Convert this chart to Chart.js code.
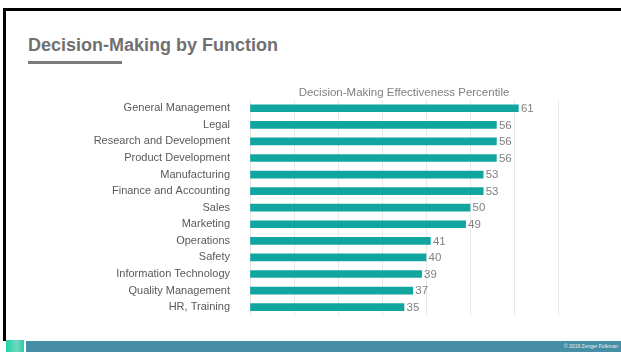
<!DOCTYPE html>
<html>
<head>
<meta charset="utf-8">
<script src="https://cdn.jsdelivr.net/npm/chart.js@4/dist/chart.umd.min.js"></script>
<style>
  html, body { margin: 0; padding: 0; background: #fff; }
  body { width: 621px; height: 352px; position: relative; overflow: hidden; font-family: "Liberation Sans", Arial, sans-serif; }
  .frame { position: absolute; left: 3px; top: 8px; width: 618px; height: 333px; border-top: 3px solid #000; border-left: 3px solid #000; box-sizing: border-box; }
  .title { position: absolute; left: 28px; top: 35px; font-size: 18px; font-weight: bold; color: #707070; white-space: nowrap; }
  .rule { position: absolute; left: 28px; top: 61px; width: 94px; height: 3px; background: #7a7a7a; }
  .band { position: absolute; left: 26px; top: 341px; width: 595px; height: 11px; background: #468ea5; }
  .square { position: absolute; left: 6px; top: 340px; width: 18px; height: 12px; background: linear-gradient(90deg, #1fd3a6, #6fd8c0 60%, #2fc9a6); }
  .copy { position: absolute; right: 3px; top: 343px; font-size: 5px; color: #e8f2f5; white-space: nowrap; }
  #chartWrap { position: absolute; left: 0; top: 80px; width: 621px; height: 254px; }
</style>
</head>
<body>
<div class="frame"></div>
<div class="title">Decision-Making by Function</div>
<div class="rule"></div>
<div id="chartWrap"><canvas id="functionChart"></canvas></div>
<div class="square"></div>
<div class="band"></div>
<div class="copy">© 2019 Zenger Folkman</div>

<script>
// 機能別の意思決定力
const functionLabels = [
  "General Management",
  "Legal",
  "Research and Development",
  "Product Development",
  "Manufacturing",
  "Finance and Accounting",
  "Sales",
  "Marketing",
  "Operations",
  "Safety",
  "Information Technology",
  "Quality Management",
  "HR, Training",
];
const percentileValues = [61, 56, 56, 56, 53, 53, 50, 49, 41, 40, 39, 37, 35];
const axisMin = 0;
const axisMax = 70;
const axisStep = 10;

// バーの右に値を描く
const valueLabelPlugin = {
  id: "valueLabels",
  afterDatasetsDraw(chart) {
    const ctx = chart.ctx;
    const meta = chart.getDatasetMeta(0);
    ctx.save();
    ctx.font = "11.5px 'Liberation Sans', Arial, sans-serif";
    ctx.fillStyle = "#808080";
    ctx.textAlign = "left";
    ctx.textBaseline = "middle";
    meta.data.forEach((bar, i) => {
      ctx.fillText(String(percentileValues[i]), bar.x + 2.5, bar.y + 0.5);
    });
    ctx.restore();
  },
};

const functionChartConfig = {
  type: "bar",
  data: {
    labels: functionLabels,
    datasets: [
      {
        label: "Decision-Making Effectiveness Percentile",
        data: percentileValues,
        backgroundColor: "#10a69f",
        borderWidth: 0,
        barThickness: 7,
      },
    ],
  },
  options: {
    indexAxis: "y",
    animation: false,
    responsive: true,
    maintainAspectRatio: false,
    layout: {
      padding: { left: 0, right: 63, top: 0, bottom: 5 },
    },
    plugins: {
      legend: { display: false },
      tooltip: { enabled: false },
    },
    scales: {
      x: {
        position: "top",
        min: axisMin,
        max: axisMax,
        ticks: { display: false, stepSize: axisStep },
        grid: { color: "#e8e8e8", lineWidth: 1, drawTicks: false },
        border: { display: false },
        title: {
          display: true,
          text: "Decision-Making Effectiveness Percentile",
          color: "#808080",
          font: { family: "'Liberation Sans', Arial, sans-serif", size: 11.5 },
          padding: { top: 6, bottom: 0 },
        },
        afterFit(scale) {
          scale.height = 20;
        },
      },
      y: {
        grid: { display: false },
        border: { display: false },
        ticks: {
          color: "#595959",
          padding: 12,
          autoSkip: false,
          font: { family: "'Liberation Sans', Arial, sans-serif", size: 11 },
        },
        afterFit(scale) {
          scale.width = 250;
        },
      },
    },
  },
  plugins: [valueLabelPlugin],
};

new Chart(document.getElementById("functionChart"), functionChartConfig);
</script>
</body>
</html>
